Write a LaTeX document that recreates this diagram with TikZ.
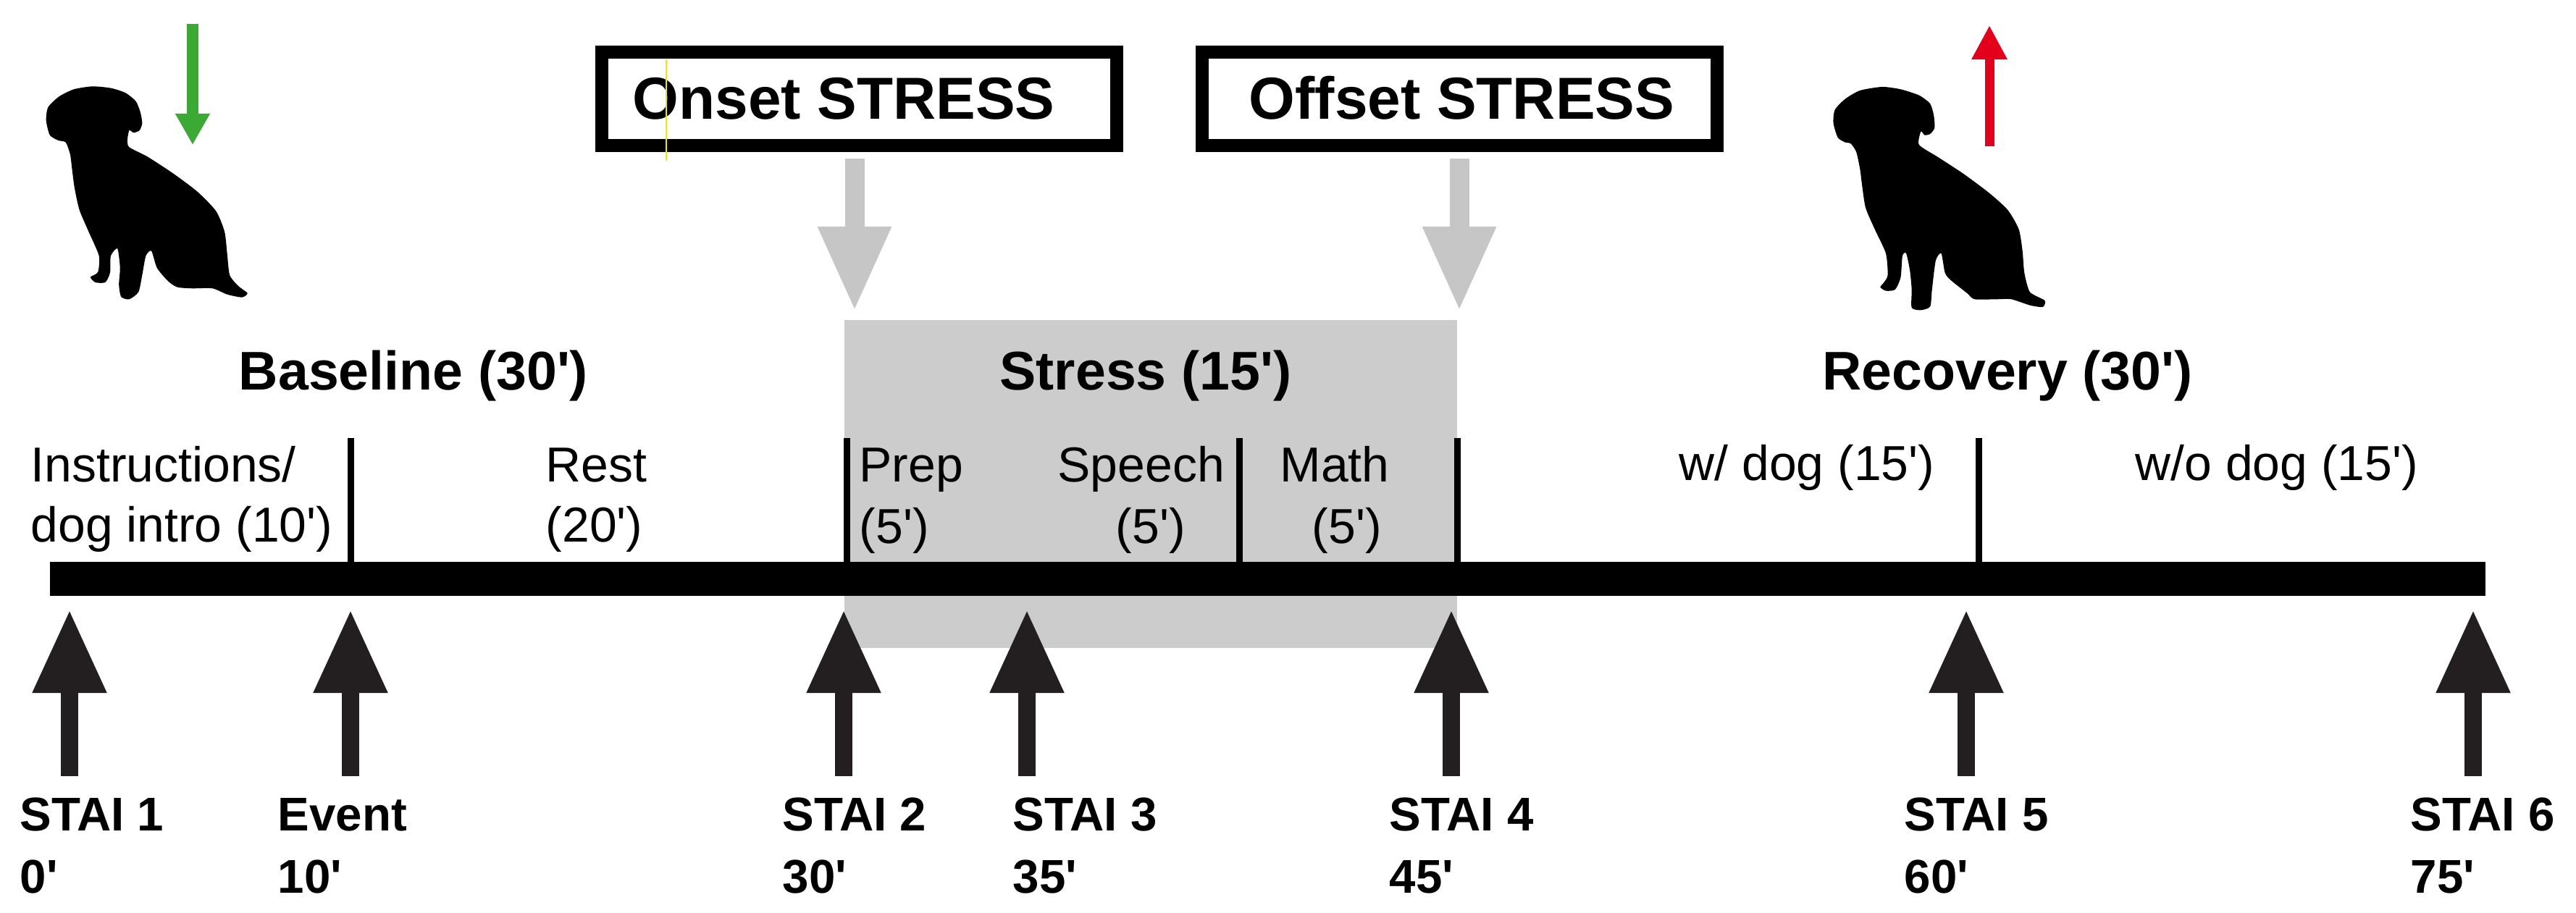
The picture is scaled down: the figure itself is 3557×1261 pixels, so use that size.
\documentclass[tikz,border=0pt]{standalone}
\usepackage{fontspec}
\setmainfont{Liberation Sans}
\usetikzlibrary{arrows.meta}
\definecolor{stressgray}{HTML}{CCCCCC}
\definecolor{arrowgray}{HTML}{C6C6C6}
\definecolor{arrowblack}{HTML}{231F20}
\definecolor{dgreen}{HTML}{3AAA35}
\definecolor{dred}{HTML}{E2001A}
\definecolor{artyellow}{HTML}{F5E600}
\newcommand{\myq}{\textquotesingle}
\begin{document}
\begin{tikzpicture}[x=0.01cm,y=-0.01cm,
  lab/.style={anchor=base west, inner sep=0pt, font=\fontsize{19.3}{23}\selectfont},
  titletxt/.style={anchor=base, inner sep=0pt, font=\fontsize{21.4}{25}\selectfont\bfseries},
  stai/.style={anchor=base west, inner sep=0pt, font=\fontsize{18.6}{22}\selectfont\bfseries},
  boxtxt/.style={anchor=base west, inner sep=0pt, font=\fontsize{23.3}{27}\selectfont\bfseries},
  tickline/.style={line width=0.09cm},
  marker/.style={arrowblack, line width=0.24cm, -{Triangle[width=0.96cm,length=1.15cm]}},
  greyarrow/.style={arrowgray, line width=0.27cm, shorten <=0.09cm, -{Triangle[width=0.94cm,length=1.17cm]}},
  stressbox/.style={draw, line width=0.18cm, fill=white, inner sep=0pt, minimum width=7.11cm, minimum height=1.29cm},
  dogfill/.style={fill=black}
]
\useasboundingbox (0,0) rectangle (3557,1261);

% stress phase background
\fill[stressgray] (1166,442) rectangle (2012,895);

% timeline bar
\fill[black] (69,776) rectangle (3432,823);

% ticks
\foreach \tx in {484,1169,1711,2012,2732}
  \draw[tickline] (\tx,605) -- (\tx,777);

% phase titles
\node[titletxt] (base) at (571,538) {Baseline (30\myq)};
\node[titletxt] (stress) at (1582,538) {Stress (15\myq)};
\node[titletxt] (recov) at (2772,538) {Recovery (30\myq)};

% segment labels
\node[lab] (inst1) at (42,665) {Instructions/};
\node[lab] (inst2) at (42,748) {dog intro (10\myq)};
\node[lab] (rest1) at (753,665) {Rest};
\node[lab] (rest2) at (753,748) {(20\myq)};
\node[lab] (prep1) at (1186,665) {Prep};
\node[lab] (prep2) at (1186,750) {(5\myq)};
\node[lab] (sp1) at (1460,665) {Speech};
\node[lab] (sp2) at (1540,750) {(5\myq)};
\node[lab] (ma1) at (1767,665) {Math};
\node[lab] (ma2) at (1811,750) {(5\myq)};
\node[lab] (wd) at (2318,663) {w/ dog (15\myq)};
\node[lab] (wod) at (2948,663) {w/o dog (15\myq)};

% STAI labels
\node[stai] (s1) at (27,1147) {STAI 1};
\node[stai] (m1) at (27,1233) {0\myq};
\node[stai] (s2) at (383,1147) {Event};
\node[stai] (m2) at (383,1233) {10\myq};
\node[stai] (s3) at (1080,1147) {STAI 2};
\node[stai] (m3) at (1080,1233) {30\myq};
\node[stai] (s4) at (1398,1147) {STAI 3};
\node[stai] (m4) at (1398,1233) {35\myq};
\node[stai] (s5) at (1918,1147) {STAI 4};
\node[stai] (m5) at (1918,1233) {45\myq};
\node[stai] (s6) at (2629,1147) {STAI 5};
\node[stai] (m6) at (2629,1233) {60\myq};
\node[stai] (s7) at (3328,1147) {STAI 6};
\node[stai] (m7) at (3328,1233) {75\myq};

% measurement arrows
\foreach \n/\ax in {1/96,2/484,3/1165,4/1418,5/2004,6/2715,7/3415}{
  \coordinate (b\n) at (\ax,1072);
  \coordinate (t\n) at (\ax,842);
  \draw[marker] (b\n) -- (t\n);
}

% onset / offset boxes
\node[stressbox] (onset) at (1186.5,136.5) {};
\node[stressbox] (offset) at (2015.5,136.5) {};
\node[boxtxt] (ontxt) at (873,165) {Onset STRESS};
\node[boxtxt] (offtxt) at (1724,165) {Offset STRESS};
\draw[artyellow, line width=0.02cm] (920,82) -- (920,222);

\coordinate (onA) at (1180,430);
\coordinate (offA) at (2015,430);
\draw[greyarrow] (onset.south -| onA) -- (onA);
\draw[greyarrow] (offset.south -| offA) -- (offA);

% green and red arrows
\coordinate (g1) at (266,33);
\coordinate (g2) at (266,200);
\draw[dgreen, line width=0.15cm, -{Triangle[width=0.45cm,length=0.43cm]}] (g1) -- (g2);
\coordinate (r1) at (2747,202);
\coordinate (r2) at (2747,35);
\draw[dred, line width=0.13cm, -{Triangle[width=0.46cm,length=0.47cm]}] (r1) -- (r2);

% dog 1
\begin{scope}[xscale=0.51, yscale=0.3333]
\fill[dogfill] plot[smooth cycle, tension=0.4] coordinates {
(250,358) (300,365) (340,385) (368,420) (380,465) (385,510) (378,540) (362,550) (350,540) (345,580) (350,610) (400,650) (470,720) (535,795) (585,875) (608,960) (615,1050) (622,1140) (645,1185) (670,1215) (655,1232) (615,1220) (575,1195) (520,1195) (480,1190) (455,1165) (425,1110) (410,1040) (395,1060) (385,1140) (375,1210) (350,1240) (328,1230) (322,1180) (325,1110) (318,1030) (300,1060) (298,1130) (285,1170) (258,1170) (245,1148) (265,1128) (268,1060) (240,960) (215,870) (202,780) (195,700) (190,640) (178,590) (158,582) (135,560) (125,500) (130,445) (160,400) (200,370)};
\end{scope}

% dog 2
\begin{scope}[shift={(2400,0)}, xscale=0.51, yscale=0.3333]
\fill[dogfill] plot[smooth cycle, tension=0.4] coordinates {
(390,360) (440,370) (490,395) (520,430) (530,480) (532,530) (520,555) (505,560) (495,545) (490,600) (540,650) (610,720) (680,800) (730,870) (760,950) (770,1040) (775,1130) (790,1210) (830,1245) (825,1272) (790,1265) (740,1240) (700,1240) (640,1240) (620,1215) (575,1160) (560,1130) (550,1050) (535,1080) (525,1200) (520,1270) (495,1285) (470,1275) (470,1200) (465,1120) (455,1050) (445,1060) (440,1150) (425,1200) (400,1205) (385,1190) (395,1170) (405,1140) (400,1050) (370,950) (345,860) (335,760) (330,700) (320,630) (305,595) (290,590) (270,570) (258,510) (262,455) (290,410) (330,375)};
\end{scope}

\end{tikzpicture}
\end{document}
